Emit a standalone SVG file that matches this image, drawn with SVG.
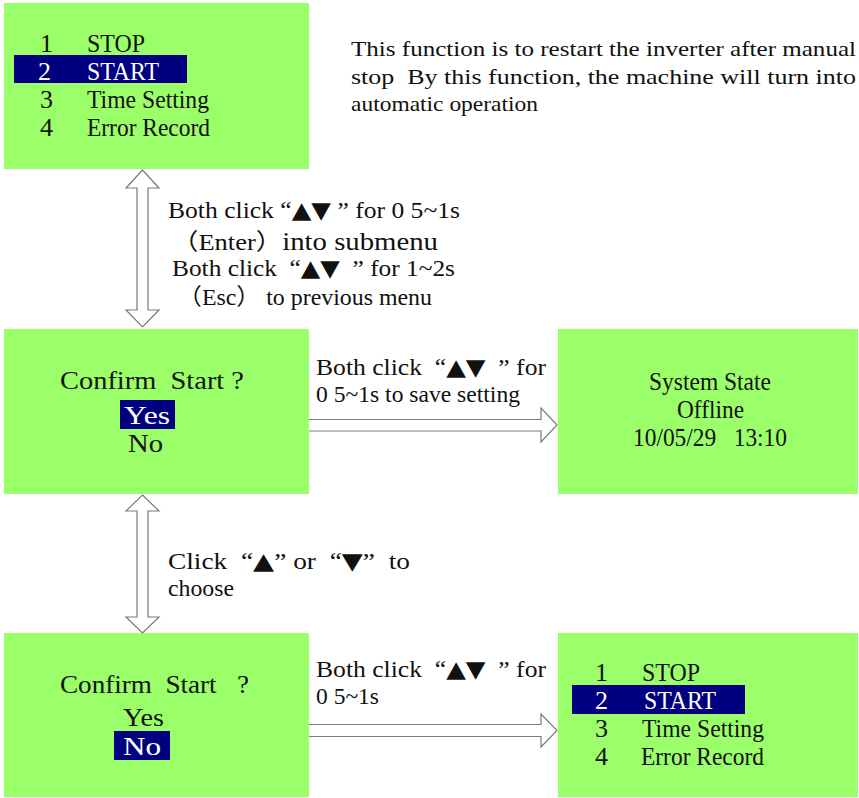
<svg xmlns="http://www.w3.org/2000/svg" width="859" height="798" viewBox="0 0 859 798">
  <style>
    .lcd { fill: #9bff6a; }
    .sel { fill: #000080; }
    .t { font-family: "Liberation Serif", "Times New Roman", "Noto Sans CJK SC", serif; fill: #111; white-space: pre; }
    .w { fill: #ffffff; }
    .m { font-size: 26px; }
    .lbl { font-size: 23px; }
    .big { font-size: 25px; }
    .desc { font-size: 22px; }
    .tri { font-family: "DejaVu Sans", sans-serif; font-size: 23px; }
    .arrow { fill: #ffffff; stroke: #7a7a7a; stroke-width: 1.2; stroke-linejoin: miter; }
  </style>
  <rect width="859" height="798" fill="#ffffff"/>

  <!-- Main menu, START selected -->
  <g id="menu-start">
    <rect class="lcd" x="4" y="3" width="305" height="166"/>
    <rect class="sel" x="14" y="55" width="173" height="28"/>
    <text class="t m" x="40" y="52">1</text>
    <text class="t m" x="87" y="52" textLength="58" lengthAdjust="spacingAndGlyphs">STOP</text>
    <text class="t m w" x="38" y="80">2</text>
    <text class="t m w" x="87" y="80" textLength="72" lengthAdjust="spacingAndGlyphs">START</text>
    <text class="t m" x="40" y="108">3</text>
    <text class="t m" x="87" y="108" textLength="122" lengthAdjust="spacingAndGlyphs">Time Setting</text>
    <text class="t m" x="40" y="136">4</text>
    <text class="t m" x="87" y="136" textLength="123" lengthAdjust="spacingAndGlyphs">Error Record</text>
  </g>

  <!-- Function description -->
  <g id="description">
    <text class="t desc" x="351" y="56" textLength="505" lengthAdjust="spacingAndGlyphs">This function is to restart the inverter after manual</text>
    <text class="t desc" x="351" y="84" textLength="505" lengthAdjust="spacingAndGlyphs">stop  By this function, the machine will turn into</text>
    <text class="t desc" x="351" y="111" textLength="187" lengthAdjust="spacingAndGlyphs">automatic operation</text>
  </g>

  <!-- Confirm dialog, Yes selected -->
  <g id="confirm-yes">
    <rect class="lcd" x="4" y="329" width="305" height="165"/>
    <text class="t m" x="60" y="389" textLength="184" lengthAdjust="spacingAndGlyphs">Confirm  Start ?</text>
    <rect class="sel" x="120" y="400" width="55" height="29"/>
    <text class="t m w" x="124" y="424" textLength="46" lengthAdjust="spacingAndGlyphs">Yes</text>
    <text class="t m" x="128" y="452" textLength="35" lengthAdjust="spacingAndGlyphs">No</text>
  </g>

  <!-- Status screen -->
  <g id="system-state">
    <rect class="lcd" x="558" y="329" width="300" height="165"/>
    <text class="t m" x="649" y="390" textLength="122" lengthAdjust="spacingAndGlyphs">System State</text>
    <text class="t m" x="677" y="418" textLength="67" lengthAdjust="spacingAndGlyphs">Offline</text>
    <text class="t m" x="633" y="446" textLength="154" lengthAdjust="spacingAndGlyphs">10/05/29   13:10</text>
  </g>

  <!-- Confirm dialog, No selected -->
  <g id="confirm-no">
    <rect class="lcd" x="4" y="633" width="305" height="164"/>
    <text class="t m" x="60" y="693" textLength="189" lengthAdjust="spacingAndGlyphs">Confirm  Start   ?</text>
    <text class="t m" x="123" y="726" textLength="41" lengthAdjust="spacingAndGlyphs">Yes</text>
    <rect class="sel" x="114" y="731" width="56" height="29"/>
    <text class="t m w" x="123" y="755" textLength="38" lengthAdjust="spacingAndGlyphs">No</text>
  </g>

  <!-- Main menu after return -->
  <g id="menu-return">
    <rect class="lcd" x="558" y="633" width="300" height="164"/>
    <rect class="sel" x="572" y="685" width="173" height="29"/>
    <text class="t m" x="595" y="681">1</text>
    <text class="t m" x="642" y="681" textLength="58" lengthAdjust="spacingAndGlyphs">STOP</text>
    <text class="t m w" x="595" y="709">2</text>
    <text class="t m w" x="644" y="709" textLength="72" lengthAdjust="spacingAndGlyphs">START</text>
    <text class="t m" x="595" y="737">3</text>
    <text class="t m" x="642" y="737" textLength="122" lengthAdjust="spacingAndGlyphs">Time Setting</text>
    <text class="t m" x="595" y="765">4</text>
    <text class="t m" x="641" y="765" textLength="123" lengthAdjust="spacingAndGlyphs">Error Record</text>
  </g>

  <!-- Block arrows between screens -->
  <g id="connectors">
    <path class="arrow" d="M142.5,170 L159,188 L148,188 L148,310 L159,310 L142.5,327 L126,310 L137,310 L137,188 L126,188 Z"/>
    <path class="arrow" d="M309,419.5 L541,419.5 L541,408 L557,425 L541,442 L541,431 L309,431"/>
    <path class="arrow" d="M142.5,495 L159,511 L148,511 L148,617 L159,617 L142.5,633 L126,617 L137,617 L137,511 L126,511 Z"/>
    <path class="arrow" d="M309,724.5 L541,724.5 L541,714 L557,730.5 L541,747 L541,736.5 L309,736.5"/>
  </g>

  <!-- Arrow captions -->
  <g id="labels">
    <text class="t lbl" x="168" y="218" textLength="292" lengthAdjust="spacingAndGlyphs">Both click “<tspan class="tri">▲▼</tspan> ” for 0 5~1s</text>
    <text class="t lbl" x="172" y="250" textLength="266" lengthAdjust="spacingAndGlyphs">（Enter）<tspan class="big">into submenu</tspan></text>
    <text class="t lbl" x="172" y="276" textLength="283" lengthAdjust="spacingAndGlyphs">Both click  “<tspan class="tri">▲▼</tspan>  ” for 1~2s</text>
    <text class="t lbl" x="178" y="305" textLength="254" lengthAdjust="spacingAndGlyphs">（Esc） to previous menu</text>

    <text class="t lbl" x="316" y="375" textLength="230" lengthAdjust="spacingAndGlyphs">Both click  “<tspan class="tri">▲▼</tspan>  ” for</text>
    <text class="t lbl" x="316" y="402" textLength="204" lengthAdjust="spacingAndGlyphs">0 5~1s to save setting</text>

    <text class="t lbl" x="168" y="569" textLength="242" lengthAdjust="spacingAndGlyphs">Click  “<tspan class="tri">▲</tspan>” or  “<tspan class="tri">▼</tspan>”  to</text>
    <text class="t lbl" x="168" y="596" textLength="66" lengthAdjust="spacingAndGlyphs">choose</text>

    <text class="t lbl" x="316" y="677" textLength="230" lengthAdjust="spacingAndGlyphs">Both click  “<tspan class="tri">▲▼</tspan>  ” for</text>
    <text class="t lbl" x="316" y="704" textLength="63" lengthAdjust="spacingAndGlyphs">0 5~1s</text>
  </g>
</svg>
